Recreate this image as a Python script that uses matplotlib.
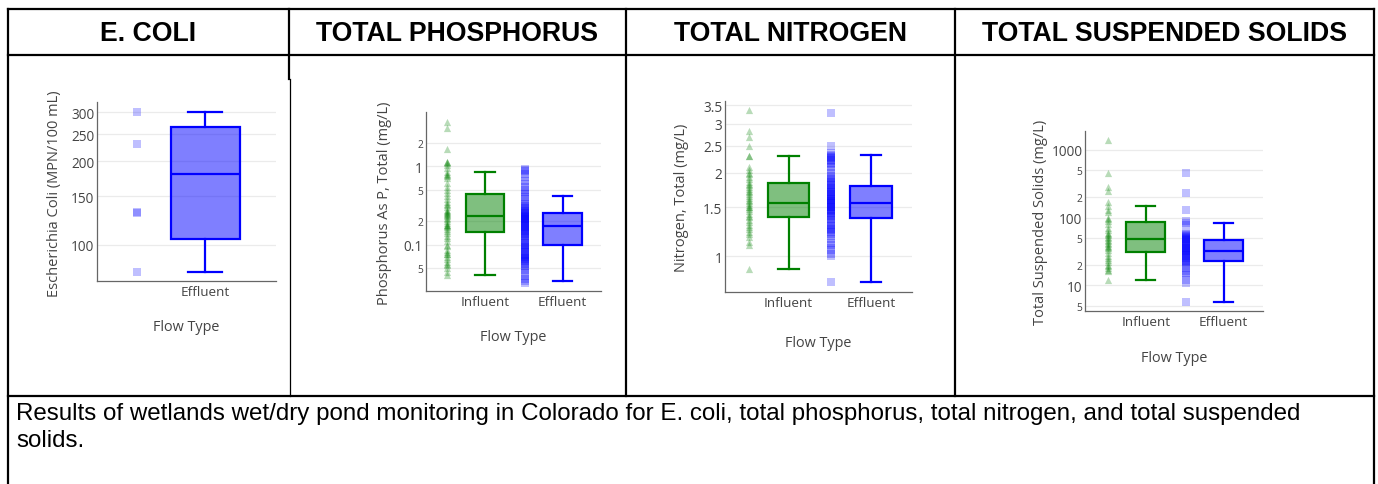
import numpy as np
import matplotlib
matplotlib.use("Agg")
import matplotlib.pyplot as plt
from matplotlib.ticker import FixedLocator, FixedFormatter, NullLocator, NullFormatter

W, H = 1378, 485

# ---- data ----
headers = ["E. COLI", "TOTAL PHOSPHORUS", "TOTAL NITROGEN", "TOTAL SUSPENDED SOLIDS"]
caption = ("Results of wetlands wet/dry pond monitoring in Colorado for E. coli, total phosphorus, "
           "total nitrogen, and total suspended\nsolids.")

# box stats: whislo, q1, med, q3, whishi
ecoli_eff_stats = [80, 105, 180, 265, 300]
ecoli_eff_pts = [300, 230, 130, 131, 80]

tp_inf_stats = [0.041, 0.147, 0.23, 0.44, 0.85]
tp_eff_stats = [0.034, 0.10, 0.175, 0.254, 0.42]
tp_inf_pts = [3.7, 3.1, 1.66, 1.15, 1.12, 1.1, 1.05, 0.95, 0.85, 0.8, 0.78, 0.75, 0.7, 0.62,
              0.55, 0.5, 0.45, 0.42, 0.38, 0.35, 0.33, 0.32, 0.3, 0.28, 0.27, 0.26, 0.25,
              0.245, 0.24, 0.23, 0.22, 0.21, 0.2, 0.19, 0.18, 0.18, 0.175, 0.17, 0.16, 0.15,
              0.14, 0.13, 0.12, 0.11, 0.1, 0.095, 0.085, 0.08, 0.077, 0.075, 0.07, 0.065,
              0.06, 0.057, 0.055, 0.05, 0.045, 0.041]
tp_eff_pts = [0.93, 0.9, 0.88, 0.8, 0.72, 0.65, 0.6, 0.55, 0.5, 0.47, 0.44, 0.41, 0.38, 0.35,
              0.33, 0.31, 0.3, 0.29, 0.28, 0.27, 0.26, 0.25, 0.245, 0.24, 0.235, 0.23, 0.225,
              0.22, 0.215, 0.21, 0.205, 0.2, 0.195, 0.19, 0.185, 0.18, 0.175, 0.17, 0.165,
              0.16, 0.155, 0.15, 0.145, 0.14, 0.135, 0.13, 0.125, 0.12, 0.115, 0.11, 0.105,
              0.1, 0.097, 0.093, 0.09, 0.087, 0.084, 0.08, 0.077, 0.074, 0.072, 0.07, 0.067,
              0.065, 0.064, 0.062, 0.06, 0.057, 0.054, 0.05, 0.047, 0.044, 0.04, 0.037,
              0.034, 0.032]

tn_inf_stats = [0.90, 1.38, 1.55, 1.83, 2.30]
tn_eff_stats = [0.806, 1.37, 1.555, 1.79, 2.31]
tn_inf_pts = [3.37, 2.83, 2.68, 2.5, 2.3, 2.3, 2.1, 2.05, 2.0, 1.97, 1.93, 1.9, 1.85, 1.82,
              1.8, 1.77, 1.75, 1.72, 1.7, 1.68, 1.65, 1.62, 1.6, 1.58, 1.55, 1.53, 1.5, 1.5,
              1.48, 1.45, 1.42, 1.4, 1.38, 1.35, 1.33, 1.3, 1.27, 1.25, 1.22, 1.2, 1.17, 1.13,
              1.1, 0.9]
tn_eff_pts = [3.28, 2.5, 2.35, 2.32, 2.3, 2.27, 2.25, 2.22, 2.2, 2.17, 2.15, 2.1, 2.05, 2.0,
              1.95, 1.92, 1.9, 1.87, 1.85, 1.82, 1.8, 1.78, 1.76, 1.75, 1.73, 1.71, 1.7, 1.68,
              1.66, 1.65, 1.64, 1.62, 1.61, 1.6, 1.58, 1.57, 1.56, 1.55, 1.53, 1.52, 1.51,
              1.5, 1.48, 1.47, 1.46, 1.45, 1.43, 1.42, 1.4, 1.38, 1.36, 1.35, 1.33, 1.3,
              1.28, 1.26, 1.25, 1.24, 1.22, 1.2, 1.18, 1.15, 1.12, 1.1, 1.07, 1.05, 1.02,
              1.0, 0.806]

tss_inf_stats = [12.1, 31.1, 47.9, 86, 147]
tss_eff_stats = [5.73, 22.7, 32.2, 47, 82.4]
tss_inf_pts = [1380, 450, 280, 250, 170, 150, 130, 120, 100, 95, 88, 80, 70, 65, 60, 58, 55,
               52, 50, 47, 45, 42, 40, 38, 37, 35, 33, 30, 27, 25, 24, 22, 20, 19, 18, 17, 16, 12]
tss_eff_pts = [450, 230, 128, 88, 82, 78, 60, 57, 55, 53, 52, 50, 48, 46, 45, 44, 42, 40, 39,
               38, 36, 35, 34, 33, 32, 31, 30, 29, 28, 27, 26, 25, 24, 23, 22, 21, 20, 18, 16,
               15, 14, 12, 11, 5.7]

GREEN = "#008000"
BLUE = "#0000ff"
GREY = "#444444"

plt.rcParams['font.family'] = ['Open Sans', 'DejaVu Sans']

fig = plt.figure(figsize=(W / 100, H / 100), dpi=100)

# table frame drawn in pixel space
bg = fig.add_axes([0, 0, 1, 1])
bg.set_xlim(0, W)
bg.set_ylim(H, 0)
bg.axis('off')
lw_tab = 1.6
bg.plot([8, 8], [10, H + 5], color='black', lw=lw_tab)
bg.plot([1374, 1374], [10, H + 5], color='black', lw=lw_tab)
bg.plot([8, 1374], [10, 10], color='black', lw=lw_tab)
bg.plot([8, 1374], [56, 56], color='black', lw=lw_tab)
bg.plot([8, 1374], [397, 397], color='black', lw=lw_tab)
bg.plot([289, 289], [10, 80], color='black', lw=lw_tab)
bg.plot([289.5, 289.5], [80, 397], color='black', lw=0.9)
for xc in [626, 955]:
    bg.plot([xc, xc], [10, 397], color='black', lw=lw_tab)

col_mid = [148.5, 457.5, 790.5, 1164.5]
for xm, h in zip(col_mid, headers):
    bg.text(xm, 34, h, ha='center', va='center', fontsize=19.2, fontweight='bold',
            family='Liberation Sans', color='black')
bg.text(16, 403, caption, ha='left', va='top', fontsize=17.4, family='Liberation Sans',
        color='black', linespacing=1.32)


def panel(box_px, cat_px, box_w_px, off_px, cats, stats, pts, colors, markers,
          ylim, yticks, ylabels, small, ylab, ylab_pos, xlab_y):
    l, t, r, b = box_px
    ax = fig.add_axes([l / W, (H - b) / H, (r - l) / W, (b - t) / H])
    unit = cat_px[1] - cat_px[0] if len(cat_px) > 1 else 100.0
    ax.set_xlim((l - cat_px[0]) / unit, (r - cat_px[0]) / unit)
    ax.set_yscale('log')
    ax.set_ylim(*ylim)
    bw = box_w_px / unit
    for i, (st, p, c, m) in enumerate(zip(stats, pts, colors, markers)):
        d = dict(whislo=st[0], q1=st[1], med=st[2], q3=st[3], whishi=st[4], fliers=[])
        ax.bxp([d], positions=[i], widths=bw, capwidths=bw * 0.5, patch_artist=True,
               showfliers=False,
               boxprops=dict(facecolor=matplotlib.colors.to_rgba(c, 0.5), edgecolor=c, lw=1.6),
               medianprops=dict(color=c, lw=1.6),
               whiskerprops=dict(color=c, lw=1.6),
               capprops=dict(color=c, lw=1.6))
        ax.scatter(np.full(len(p), i + off_px / unit), p, marker=m, s=27, color=c,
                   alpha=0.25 if m == 's' else 0.28, linewidths=0, zorder=3)
    ax.set_xticks(range(len(cats)))
    ax.set_xticklabels(cats, fontsize=9.7, color=GREY)
    ax.yaxis.set_major_locator(FixedLocator(yticks))
    ax.yaxis.set_major_formatter(FixedFormatter(ylabels))
    ax.yaxis.set_minor_locator(NullLocator())
    ax.yaxis.set_minor_formatter(NullFormatter())
    ax.tick_params(axis='both', length=0, labelcolor=GREY)
    ax.tick_params(axis='y', pad=2, labelsize=9.8)
    ax.tick_params(axis='x', pad=3)
    for lab, sm in zip(ax.get_yticklabels(), small):
        if sm:
            lab.set_fontsize(7.4)
    ax.grid(axis='y', color='#ebebeb', lw=0.9)
    ax.set_axisbelow(True)
    for s in ['top', 'right']:
        ax.spines[s].set_visible(False)
    for s in ['left', 'bottom']:
        ax.spines[s].set_color('#666666')
        ax.spines[s].set_linewidth(0.9)
    bg.text(ylab_pos[0], ylab_pos[1], ylab, rotation=90, ha='center', va='center',
            fontsize=10.5, color=GREY)
    bg.text((l + r) / 2, xlab_y, "Flow Type", ha='center', va='center', fontsize=10.4,
            color=GREY)
    return ax


panel((97, 103, 276, 282), [205], 69, -68.3, ['Effluent'],
      [ecoli_eff_stats], [ecoli_eff_pts], [BLUE], ['s'],
      (74.2, 327), [100, 150, 200, 250, 300], ['100', '150', '200', '250', '300'],
      [False] * 5, "Escherichia Coli (MPN/100 mL)", (55, 194), 328)

panel((425.7, 113.3, 601, 291.7), [485, 562.7], 38.5, -37.5, ['Influent', 'Effluent'],
      [tp_inf_stats, tp_eff_stats], [tp_inf_pts, tp_eff_pts], [GREEN, BLUE], ['^', 's'],
      (0.0259, 4.88), [0.05, 0.1, 0.2, 0.5, 1, 2], ['5', '0.1', '2', '5', '1', '2'],
      [True, False, True, True, False, True], "Phosphorus As P, Total (mg/L)", (385, 203), 338)

panel((725, 101.7, 912.3, 293.3), [788.5, 871], 41.5, -40, ['Influent', 'Effluent'],
      [tn_inf_stats, tn_eff_stats], [tn_inf_pts, tn_eff_pts], [GREEN, BLUE], ['^', 's'],
      (0.742, 3.63), [1, 1.5, 2, 2.5, 3, 3.5], ['1', '1.5', '2', '2.5', '3', '3.5'],
      [False] * 6, "Nitrogen, Total (mg/L)", (681.7, 197.5), 344)

panel((1085.3, 132.3, 1263.3, 312), [1145.7, 1223.7], 39, -38, ['Influent', 'Effluent'],
      [tss_inf_stats, tss_eff_stats], [tss_inf_pts, tss_eff_pts], [GREEN, BLUE], ['^', 's'],
      (4.18, 1868), [5, 10, 20, 50, 100, 200, 500, 1000],
      ['5', '10', '2', '5', '100', '2', '5', '1000'],
      [True, False, True, True, False, True, True, False],
      "Total Suspended Solids (mg/L)", (1040, 222.5), 359)

fig.savefig("out.png", dpi=100)
